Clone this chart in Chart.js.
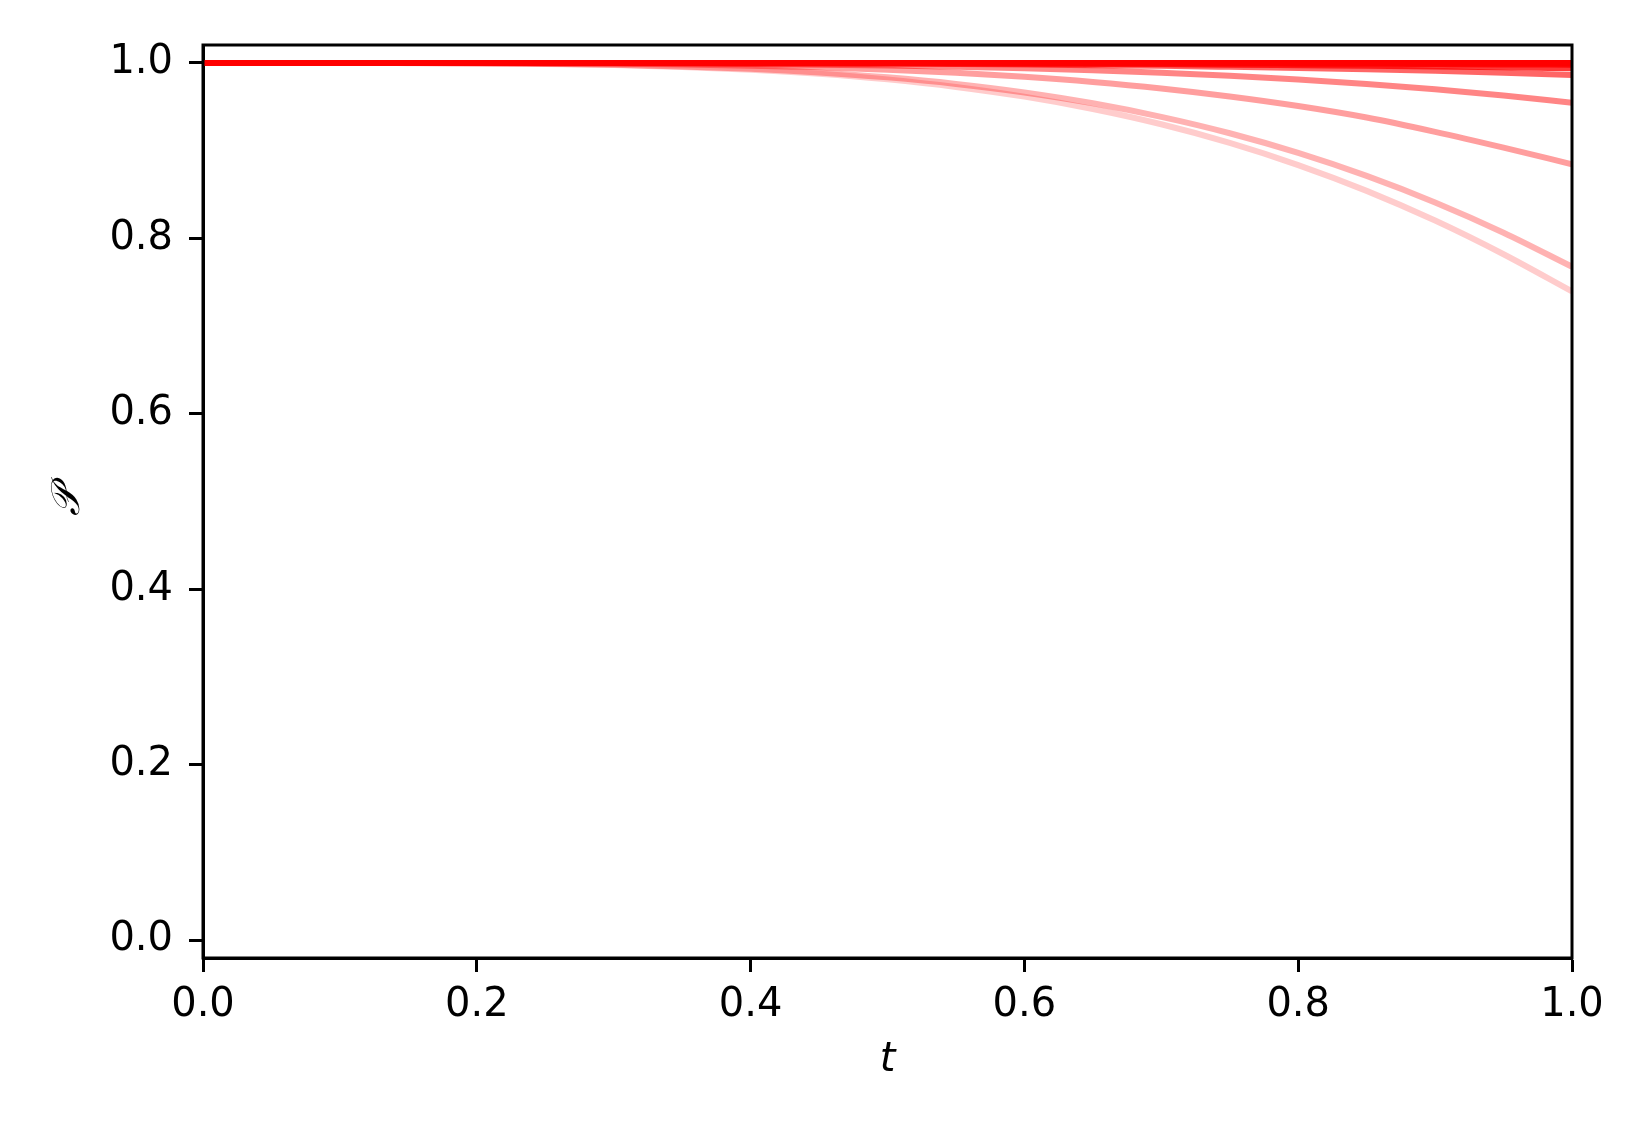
<!DOCTYPE html>
<html>
<head>
<meta charset="utf-8">
<script src="https://cdn.jsdelivr.net/npm/chart.js@4/dist/chart.umd.min.js"></script>
<style>
  html, body { margin: 0; padding: 0; background: #ffffff; }
  #wrap { width: 1650px; height: 1140px; }
</style>
</head>
<body>
<div id="wrap"><canvas id="c" width="1650" height="1140"></canvas></div>
<script>
// ---- data ----
const tValues = [0.00,0.05,0.10,0.15,0.20,0.25,0.30,0.35,0.40,0.45,0.50,0.55,0.60,0.65,0.70,0.75,0.80,0.85,0.90,0.95,1.00];

const seriesA = [1,1,1,1,1,1,1,1,1,1,1,1,1,1,1,1,1,1,1,1,1];
const seriesB = [1,1,1,1,1,1,1,1,1,0.9999,0.9999,0.9998,0.9997,0.9996,0.9995,0.9994,0.9992,0.9990,0.9987,0.9984,0.9980];
const seriesC = [1,1,1,1,1,1,1,0.9999,0.9998,0.9998,0.9996,0.9995,0.9992,0.9989,0.9986,0.9981,0.9975,0.9969,0.9961,0.9951,0.9940];
const seriesD = [1,1,1,1,1,0.9999,0.9999,0.9998,0.9996,0.9994,0.9991,0.9987,0.9982,0.9975,0.9967,0.9956,0.9944,0.9928,0.9910,0.9888,0.9863];
const seriesE = [1,1,1,1,0.9999,0.9998,0.9996,0.9993,0.9988,0.9981,0.9971,0.9958,0.9940,0.9917,0.9889,0.9854,0.9812,0.9761,0.9700,0.9629,0.9547];
const seriesF = [1,1,1,0.9999,0.9998,0.9995,0.9990,0.9982,0.9969,0.9950,0.9923,0.9888,0.9842,0.9783,0.9709,0.9618,0.9509,0.9378,0.9215,0.9035,0.8845];
const seriesG = [1,1,1,0.9999,0.9996,0.9990,0.9979,0.9960,0.9933,0.9892,0.9836,0.9761,0.9664,0.9540,0.9386,0.9199,0.8975,0.8713,0.8410,0.8065,0.7677];
const seriesH = [1,1,1,0.9998,0.9995,0.9988,0.9976,0.9955,0.9923,0.9877,0.9813,0.9727,0.9616,0.9475,0.9301,0.9089,0.8836,0.8542,0.8203,0.7819,0.7395];

const xTickValues = [0.0,0.2,0.4,0.6,0.8,1.0];
const xTickLabels = ["0.0","0.2","0.4","0.6","0.8","1.0"];
const yTickValues = [0.0,0.2,0.4,0.6,0.8,1.0];
const yTickLabels = ["0.0","0.2","0.4","0.6","0.8","1.0"];

const xTitle = "t";
const yTitle = "\u{1D4AB}";

// ---- styles (kept apart from the data) ----
const allSeries = [seriesA, seriesB, seriesC, seriesD, seriesE, seriesF, seriesG, seriesH];
const lineAlphas = [1.0, 0.9, 0.78, 0.6, 0.48, 0.38, 0.3, 0.2];

const datasets = allSeries.map((s, i) => ({
  data: s.map((v, j) => ({ x: tValues[j], y: v })),
  borderColor: `rgba(255,0,0,${lineAlphas[i]})`,
  borderWidth: 6,
  pointRadius: 0,
  cubicInterpolationMode: 'monotone',
  fill: false
}));

const frame = {
  id: 'frame',
  afterDraw(chart) {
    const { ctx, chartArea: a } = chart;
    ctx.save();
    ctx.strokeStyle = '#000';
    ctx.lineWidth = 3;
    ctx.strokeRect(a.left, a.top, a.right - a.left, a.bottom - a.top);
    ctx.restore();
  }
};

const tickFont = { family: 'DejaVu Sans', size: 40 };

new Chart(document.getElementById('c'), {
  type: 'line',
  data: { datasets },
  options: {
    responsive: false,
    animation: false,
    devicePixelRatio: 1,
    layout: { padding: { top: 45, right: 78, left: 0, bottom: 0 } },
    plugins: { legend: { display: false }, tooltip: { enabled: false } },
    scales: {
      x: {
        type: 'linear',
        min: 0, max: 1,
        afterFit(s) { s.height = 182; },
        afterBuildTicks(s) { s.ticks = xTickValues.map(v => ({ value: v })); },
        ticks: {
          color: '#000', font: tickFont, padding: 10, maxRotation: 0, autoSkip: false,
          callback: (v) => { const i = xTickValues.indexOf(v); return i >= 0 ? xTickLabels[i] : ''; }
        },
        grid: { display: true, drawOnChartArea: false, drawTicks: true, tickLength: 14, tickWidth: 3, tickColor: '#000' },
        border: { display: true, color: '#000', width: 3 },
        title: {
          display: true, text: xTitle, color: '#000',
          font: { family: 'DejaVu Sans', size: 40, style: 'italic' },
          padding: { top: 0, bottom: 55 }
        }
      },
      y: {
        type: 'linear',
        min: -0.0205, max: 1.0205,
        afterFit(s) { s.width = 203; },
        afterBuildTicks(s) { s.ticks = yTickValues.map(v => ({ value: v })); },
        ticks: {
          color: '#000', font: tickFont, padding: 16, autoSkip: false,
          callback: (v) => { const i = yTickValues.indexOf(v); return i >= 0 ? yTickLabels[i] : ''; }
        },
        grid: { display: true, drawOnChartArea: false, drawTicks: true, tickLength: 14, tickWidth: 3, tickColor: '#000' },
        border: { display: true, color: '#000', width: 3 },
        title: {
          display: true, text: yTitle, color: '#000',
          font: { family: 'DejaVu Serif', size: 40, style: 'italic' },
          padding: { top: 45, bottom: 0 }
        }
      }
    }
  },
  plugins: [frame]
});
</script>
</body>
</html>
